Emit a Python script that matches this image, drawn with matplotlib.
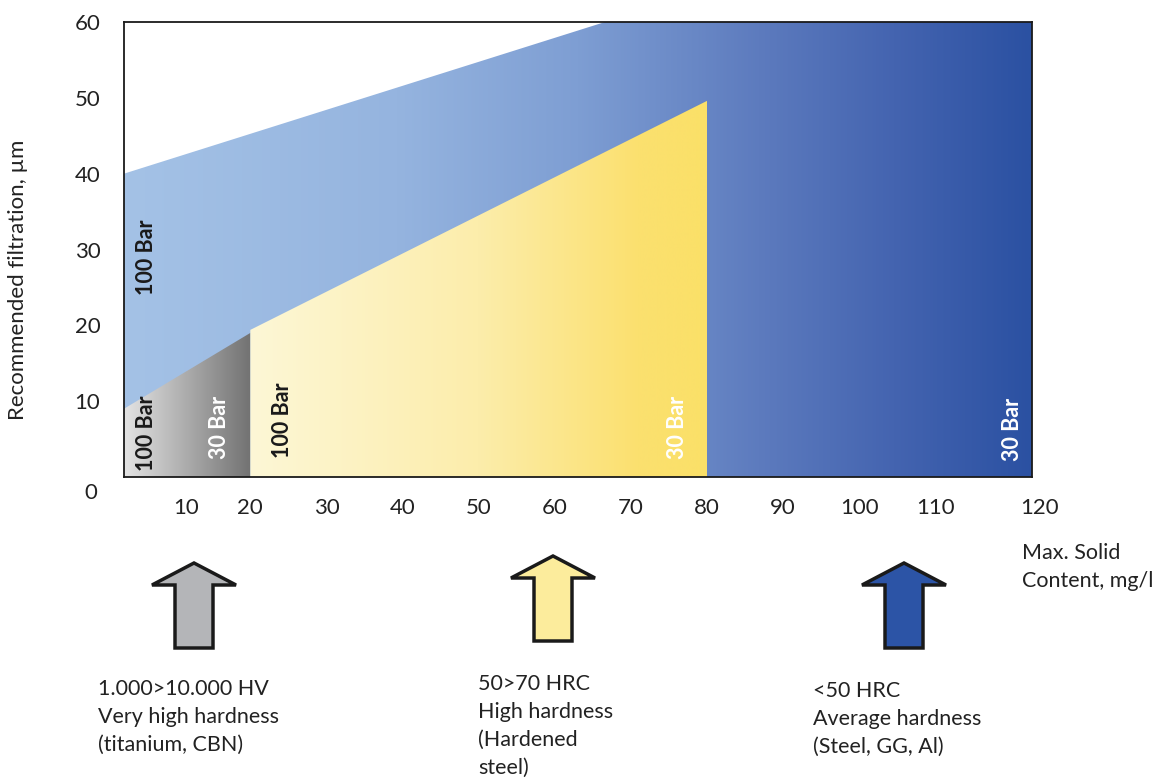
import numpy as np
import matplotlib
matplotlib.use("Agg")
import matplotlib.pyplot as plt
import matplotlib.transforms as mtransforms
from matplotlib.patches import Polygon
from matplotlib.colors import LinearSegmentedColormap

plt.rcParams['font.family'] = ['Lato', 'DejaVu Sans']

# ---- data ----
x_left, x_right = 3.4, 122.7           # visible x range (mg/l)
blue_x = [x_left, 66.6, x_right]        # upper boundary of blue zone
blue_y = [40, 60, 60]
gray_x = [x_left, 20]                   # upper boundary of gray zone
gray_y = [9, 19]
yellow_x = [20, 80]                     # upper boundary of yellow zone
yellow_y = [19.4, 49.6]

x_ticks = [10, 20, 30, 40, 50, 60, 70, 80, 90, 100, 110, 120]
y_ticks = [10, 20, 30, 40, 50, 60]

bar_labels = [  # (x, y, text, color)
    (6.3, 29.0, "100 Bar", "#1a1a1a"),
    (6.3, 5.8, "100 Bar", "#1a1a1a"),
    (16.0, 6.6, "30 Bar", "white"),
    (24.2, 7.5, "100 Bar", "#1a1a1a"),
    (76.1, 6.5, "30 Bar", "white"),
    (120.2, 6.3, "30 Bar", "white"),
]

groups = [
    ("1.000>10.000 HV\nVery high hardness\n(titanium, CBN)", "#b4b5b8"),
    ("50>70 HRC\nHigh hardness\n(Hardened\nsteel)", "#fcec9c"),
    ("<50 HRC\nAverage hardness\n(Steel, GG, Al)", "#2c54a6"),
]

W, H = 1163, 780
fig = plt.figure(figsize=(W / 100, H / 100), dpi=100)
ax = fig.add_axes([124 / W, 1 - 477 / H, (1032 - 124) / W, (477 - 22) / H])
ax.set_xlim(x_left, x_right)
ax.set_ylim(0, 60)


def grad_region(xs, ys, colors):
    verts = [(xs[0], 0)] + list(zip(xs, ys)) + [(xs[-1], 0)]
    poly = Polygon(verts, closed=True, facecolor='none', edgecolor='none')
    ax.add_patch(poly)
    cmap = LinearSegmentedColormap.from_list('g', colors)
    grad = np.linspace(0, 1, 512).reshape(1, -1)
    im = ax.imshow(grad, cmap=cmap, aspect='auto',
                   extent=[xs[0], xs[-1], 0, max(ys)], origin='lower',
                   interpolation='bilinear', zorder=1)
    im.set_clip_path(poly)


grad_region(blue_x, blue_y,
            [(0.0, '#a4c2e6'), (0.3, '#95b4df'), (0.5, '#7e9ed3'),
             (0.7, '#5d7bbe'), (0.85, '#4464b0'), (1.0, '#2b51a2')])
grad_region(gray_x, gray_y, [(0, '#e4e4e4'), (1, '#727272')])
grad_region(yellow_x, yellow_y,
            [(0, '#fdf7d6'), (0.5, '#fcedab'), (0.85, '#fbe06f'), (1, '#fbe068')])

ax.set_xticks(x_ticks)
ax.set_xticklabels([str(t) for t in x_ticks])
ax.set_yticks(y_ticks)
ax.set_yticklabels([str(t) for t in y_ticks])
ax.tick_params(length=0, labelsize=16, colors='#222222', pad=15)
ax.tick_params(axis='y', pad=17)
for s in ax.spines.values():
    s.set_color('#1a1a1a')
    s.set_linewidth(1.3)
    s.set_zorder(5)

# small hand-placement offsets of the first/last x tick labels
xl = ax.get_xticklabels()
xl[0].set_transform(xl[0].get_transform() +
                    mtransforms.ScaledTranslation(0.12, 0, fig.dpi_scale_trans))
xl[-1].set_transform(xl[-1].get_transform() +
                     mtransforms.ScaledTranslation(0.28, 0, fig.dpi_scale_trans))

ax.text(-0.03, -0.035, "0", transform=ax.transAxes, ha='right', va='center',
        fontsize=16, color='#222222')

for x, y, t, c in bar_labels:
    ax.text(x, y, t, rotation=90, ha='center', va='center', color=c,
            fontsize=15.5, fontweight='bold', zorder=4, clip_on=False)

fig.text(18 / W, 1 - 280 / H, "Recommended filtration, µm", rotation=90,
         ha='center', va='center', fontsize=16, color='#222222')
fig.text(1022 / W, 1 - 567 / H, "Max. Solid\nContent, mg/l", ha='left',
         va='center', fontsize=15.5, color='#222222', linespacing=1.45)

# overlay axes in pixel units for arrows/annotation
ov = fig.add_axes([0, 0, 1, 1])
ov.set_xlim(0, W)
ov.set_ylim(H, 0)
ov.axis('off')
ov.patch.set_alpha(0)

arrow_cx = [194, 553, 904]
arrow_tip = [563, 556, 563]
text_pos = [(98, 679), (478, 674), (813, 681)]
for (txt, col), cx, tip, (tx, ty) in zip(groups, arrow_cx, arrow_tip, text_pos):
    hb = tip + 22
    bot = tip + 85
    hw, sw = 42, 19
    pts = [(cx, tip), (cx + hw, hb), (cx + sw, hb), (cx + sw, bot),
           (cx - sw, bot), (cx - sw, hb), (cx - hw, hb)]
    ov.add_patch(Polygon(pts, closed=True, facecolor=col, edgecolor='#1a1a1a',
                         linewidth=2.5, joinstyle='miter'))
    ov.text(tx, ty, txt, ha='left', va='top', fontsize=15.5, color='#222222',
            linespacing=1.5)

fig.savefig("out.png", dpi=100)
